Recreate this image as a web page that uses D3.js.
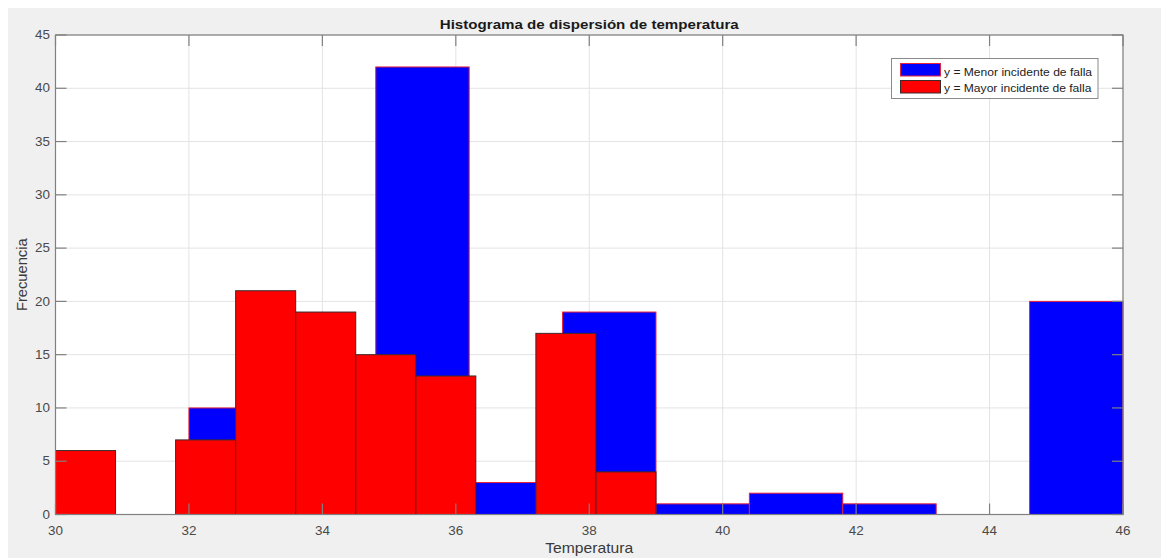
<!DOCTYPE html>
<html>
<head>
<meta charset="utf-8">
<script src="https://cdn.jsdelivr.net/npm/d3@7/dist/d3.min.js"></script>
<style>
  html, body { margin: 0; padding: 0; background: #ffffff; }
  svg { display: block; }
  text { font-family: "Liberation Sans", Arial, sans-serif; }
</style>
</head>
<body>
<svg id="chart" width="1161" height="558"></svg>
<script>
// ---- data ----
const blueBinEdges = [32, 33.4, 34.8, 36.2, 37.6, 39, 40.4, 41.8, 43.2, 44.6, 46];
const blueCounts   = [10, 4, 42, 3, 19, 1, 2, 1, 0, 20];
const redBinEdges  = [30, 30.9, 31.8, 32.7, 33.6, 34.5, 35.4, 36.3, 37.2, 38.1, 39];
const redCounts    = [6, 0, 7, 21, 19, 15, 13, 0, 17, 4];
const xTicks = [30, 32, 34, 36, 38, 40, 42, 44, 46];
const yTicks = [0, 5, 10, 15, 20, 25, 30, 35, 40, 45];
const seriesNames = ["y = Menor incidente de falla", "y = Mayor incidente de falla"];
const titleText = "Histograma de dispersión de temperatura";
const xLabel = "Temperatura";
const yLabel = "Frecuencia";

// ---- layout ----
const svg = d3.select("#chart");
const L = 55.5, R = 1123, T = 35, B = 514.5;
const SX = 1.12; // horizontal text stretch
const x = d3.scaleLinear().domain([30, 46]).range([L, R]);
const y = d3.scaleLinear().domain([0, 45]).range([B, T]);

// figure background
svg.append("rect").attr("x", 8).attr("y", 8).attr("width", 1161 - 8).attr("height", 558 - 8).attr("fill", "#f0f0f0");
// axes background
svg.append("rect").attr("x", L).attr("y", T).attr("width", R - L).attr("height", B - T).attr("fill", "#ffffff");

// grid
const grid = svg.append("g").attr("stroke", "#e3e3e3").attr("stroke-width", 1);
xTicks.forEach(t => grid.append("line").attr("x1", x(t)).attr("x2", x(t)).attr("y1", T).attr("y2", B));
yTicks.forEach(t => grid.append("line").attr("x1", L).attr("x2", R).attr("y1", y(t)).attr("y2", y(t)));

function bins(edges, counts) {
  return counts.map((c, i) => ({ x0: edges[i], x1: edges[i + 1], c }));
}

// blue series (behind)
svg.append("g").selectAll("rect").data(bins(blueBinEdges, blueCounts)).join("rect")
  .attr("x", d => x(d.x0)).attr("width", d => x(d.x1) - x(d.x0))
  .attr("y", d => y(d.c)).attr("height", d => y(0) - y(d.c))
  .attr("fill", "#0000ff").attr("stroke", "#e8203a").attr("stroke-width", 1);

// red series (front)
svg.append("g").selectAll("rect").data(bins(redBinEdges, redCounts)).join("rect")
  .attr("x", d => x(d.x0)).attr("width", d => x(d.x1) - x(d.x0))
  .attr("y", d => y(d.c)).attr("height", d => y(0) - y(d.c))
  .attr("fill", "#ff0000").attr("stroke", "#3a2a2a").attr("stroke-width", 1);

// axes box + inward ticks on all sides
const axCol = "#808080";
const axisG = svg.append("g").attr("stroke", axCol).attr("stroke-width", 1.2).attr("fill", "none");
axisG.append("rect").attr("x", L).attr("y", T).attr("width", R - L).attr("height", B - T);
const TL = 11;
xTicks.forEach(t => {
  axisG.append("line").attr("x1", x(t)).attr("x2", x(t)).attr("y1", B).attr("y2", B - TL);
  axisG.append("line").attr("x1", x(t)).attr("x2", x(t)).attr("y1", T).attr("y2", T + TL);
});
yTicks.forEach(t => {
  axisG.append("line").attr("x1", L).attr("x2", L + TL).attr("y1", y(t)).attr("y2", y(t));
  axisG.append("line").attr("x1", R).attr("x2", R - TL).attr("y1", y(t)).attr("y2", y(t));
});

// text helper with horizontal stretch
function txt(tx, ty, s, opts) {
  const g = svg.append("g").attr("transform", `translate(${tx},${ty}) ${opts.rot ? "rotate(-90)" : ""} scale(${opts.sx || SX},1)`);
  return g.append("text").attr("x", 0).attr("y", 0)
    .attr("text-anchor", opts.anchor || "middle")
    .attr("font-size", opts.size || 11.5)
    .attr("font-weight", opts.bold ? "bold" : "normal")
    .attr("fill", opts.color || "#4a4a4a")
    .text(s);
}

xTicks.forEach(t => txt(x(t), 535, String(t), { size: 12 }));
yTicks.forEach(t => txt(50, y(t) + 4.2, String(t), { size: 12, anchor: "end" }));

txt((L + R) / 2, 28.5, titleText, { size: 13.5, bold: true, color: "#1a1a1a" });
txt((L + R) / 2, 553, xLabel, { size: 14, color: "#3a3a3a" });
txt(27, (T + B) / 2, yLabel, { size: 14, color: "#3a3a3a", rot: true, sx: 1.05 });

// legend
const lg = svg.append("g");
lg.append("rect").attr("x", 891.5).attr("y", 58.5).attr("width", 206.5).attr("height", 40)
  .attr("fill", "#ffffff").attr("stroke", "#8a8a8a").attr("stroke-width", 1);
const swFill = ["#0000ff", "#ff0000"], swStroke = ["#e8203a", "#3a2a2a"];
seriesNames.forEach((n, i) => {
  lg.append("rect").attr("x", 900.5).attr("y", 63.5 + i * 17).attr("width", 40).attr("height", 12.5)
    .attr("fill", swFill[i]).attr("stroke", swStroke[i]).attr("stroke-width", 1);
  txt(944, 75.5 + i * 16.5, n, { size: 10.8, anchor: "start", color: "#222" });
});
</script>
</body>
</html>
